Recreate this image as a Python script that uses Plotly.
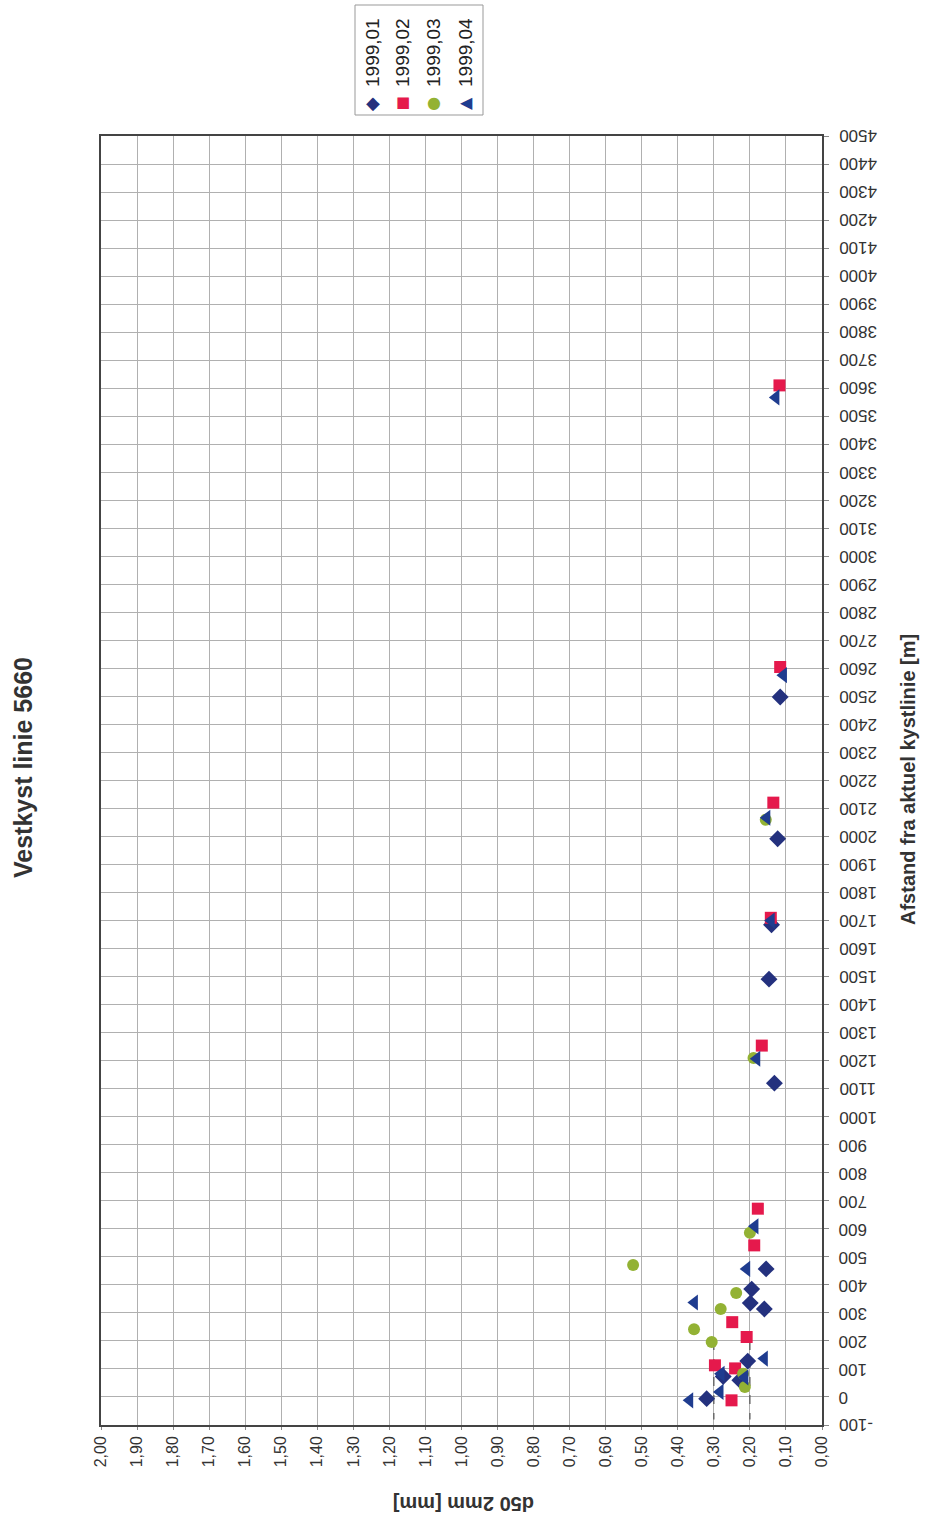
import plotly.graph_objects as go

# ---------------- data ----------------
series_names = ["1999,01", "1999,02", "1999,03", "1999,04"]

# distance from coastline [m] and d50 [mm]
dist_01 = [2498, 1992, 1685, 1491, 1120, 457, 385, 335, 314, 128, 60, 73, -6]
d50_01 = [0.116, 0.123, 0.140, 0.147, 0.132, 0.155, 0.195, 0.199, 0.160, 0.206, 0.228, 0.274, 0.320]

dist_02 = [3610, 2605, 2121, 1710, 1254, 672, 541, 267, 214, 113, 102, -12]
d50_02 = [0.118, 0.116, 0.135, 0.142, 0.167, 0.178, 0.188, 0.249, 0.209, 0.297, 0.241, 0.251]

dist_03 = [2060, 1210, 586, 471, 371, 314, 242, 196, 83, 36]
d50_03 = [0.156, 0.190, 0.200, 0.524, 0.238, 0.281, 0.355, 0.306, 0.219, 0.214]

dist_04 = [3567, 2576, 2067, 1700, 1207, 609, 457, 337, 137, 83, 70, 18, -12]
d50_04 = [0.128, 0.107, 0.153, 0.141, 0.181, 0.186, 0.209, 0.354, 0.160, 0.280, 0.214, 0.283, 0.367]

# dashed reference lines near the coast
ref_d50 = [0.30, 0.30, None, 0.20, 0.20]
ref_dist = [200, -80, None, 200, -80]

dist_ticks = list(range(-100, 4501, 100))
d50_ticks = [round(i * 0.1, 1) for i in range(21)]
d50_ticklabels = [f"{v:.2f}".replace(".", ",") for v in d50_ticks]

colors = ["#24317e", "#e5194c", "#93b234", "#1f3c8f"]
symbols = ["diamond", "square", "circle", "triangle-left"]
marker_sizes = [13, 12, 12, 14]
legend_glyphs = ["\u25C6", "\u25A0", "\u25CF", "\u25C0"]
legend_glyph_sizes = [18, 15, 16, 16]

# ---------------- figure ----------------
W, H = 927, 1520
L, R, T, B = 101, 105, 136, 95

def px(x):
    return (x - L) / (W - L - R)

def py(y):
    return (H - B - y) / (H - T - B)

fig = go.Figure()

fig.add_trace(go.Scatter(x=ref_d50, y=ref_dist, mode="lines",
                         line=dict(color="#555555", width=1.2, dash="dash"),
                         showlegend=False, hoverinfo="skip"))

data = [(d50_01, dist_01), (d50_02, dist_02), (d50_03, dist_03), (d50_04, dist_04)]
for (xs, ys), name, c, s, ms in zip(data, series_names, colors, symbols, marker_sizes):
    fig.add_trace(go.Scatter(x=xs, y=ys, mode="markers", name=name,
                             marker=dict(symbol=s, color=c, size=ms, line=dict(width=0)),
                             showlegend=False))

font = "Liberation Sans, Arial, sans-serif"

fig.update_layout(
    width=W, height=H,
    margin=dict(l=L, r=R, t=T, b=B),
    paper_bgcolor="white", plot_bgcolor="white",
    font=dict(family=font, color="#222222"),
    xaxis=dict(range=[2.0, 0.0], tickvals=d50_ticks, ticktext=d50_ticklabels,
               tickangle=-90, tickfont=dict(size=16, color="#333333"),
               showgrid=True, gridcolor="#b0b0b0", gridwidth=1, automargin=False,
               showline=True, linecolor="#444444", linewidth=1.5, mirror=True,
               ticks="outside", ticklen=3, tickcolor="#888888", zeroline=False),
    yaxis=dict(range=[-100, 4500], side="right", tickvals=dist_ticks,
               showticklabels=False, automargin=False,
               showgrid=True, gridcolor="#b0b0b0", gridwidth=1,
               showline=True, linecolor="#444444", linewidth=1.5, mirror=True,
               ticks="outside", ticklen=5, tickcolor="#888888", zeroline=False),
)

ann = []
# distance tick labels (upside-down as in the scanned page)
for v in dist_ticks:
    ann.append(dict(text=str(v), textangle=180, x=px(837), y=v, xref="paper", yref="y",
                    xanchor="left", yanchor="middle", showarrow=False,
                    font=dict(size=17, color="#333333", family=font)))

ann.append(dict(text="<b>Vestkyst linie 5660</b>", textangle=-90, x=px(23), y=py(768),
                xref="paper", yref="paper", xanchor="center", yanchor="middle", showarrow=False,
                font=dict(size=25, color="#333333", family=font)))
ann.append(dict(text="<b>Afstand fra aktuel kystlinie [m]</b>", textangle=-90, x=px(908), y=py(780),
                xref="paper", yref="paper", xanchor="center", yanchor="middle", showarrow=False,
                font=dict(size=20, color="#333333", family=font)))
ann.append(dict(text="<b>d50 2mm [mm]</b>", textangle=180, x=px(464), y=py(1504),
                xref="paper", yref="paper", xanchor="center", yanchor="middle", showarrow=False,
                font=dict(size=20, color="#333333", family=font)))

# legend (rotated)
fig.add_shape(type="rect", xref="paper", yref="paper",
              x0=px(355), x1=px(483), y0=py(115), y1=py(5),
              line=dict(color="#999999", width=1), fillcolor="white")
leg_x = [373, 403, 434, 466]
for name, c, g, gs, lx in zip(series_names, colors, legend_glyphs, legend_glyph_sizes, leg_x):
    ann.append(dict(text=name, textangle=-90, x=px(lx), y=py(53),
                    xref="paper", yref="paper", xanchor="center", yanchor="middle", showarrow=False,
                    font=dict(size=19, color="#222222", family=font)))
    ann.append(dict(text=g, x=px(lx), y=py(102), xref="paper", yref="paper",
                    xanchor="center", yanchor="middle",
                    showarrow=False, font=dict(size=gs, color=c, family="DejaVu Sans")))

fig.update_layout(annotations=ann)

fig.write_html("out.html", config={"displayModeBar": False},
               post_script="document.body.style.margin='0';document.body.style.padding='0';")
